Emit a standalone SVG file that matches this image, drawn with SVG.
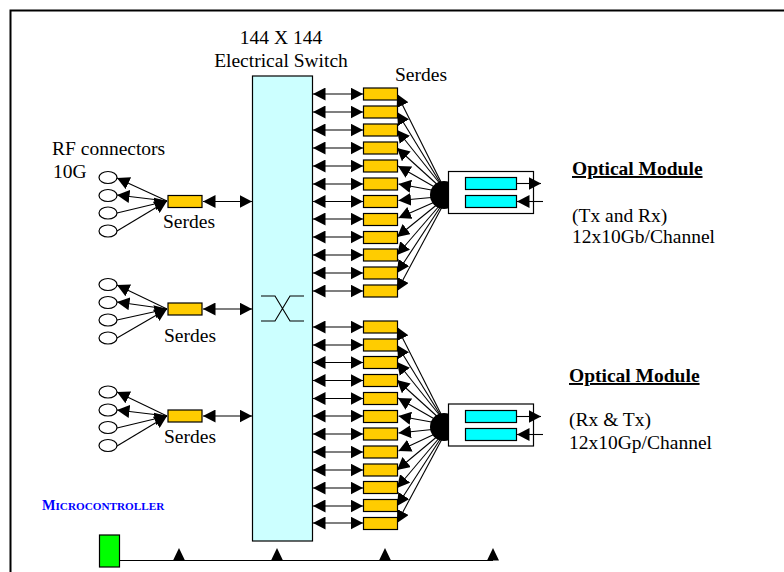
<svg xmlns="http://www.w3.org/2000/svg" width="784" height="572" viewBox="0 0 784 572">
<style>
text{font-family:"Liberation Serif","Times New Roman",serif;font-size:19.500px;fill:#000}
.o{fill:#fc0;stroke:#000;stroke-width:1.2}
.c{fill:#0ff;stroke:#000;stroke-width:1.2}
.e{fill:#fff;stroke:#000;stroke-width:1.2}
.l{fill:none;stroke:#000;stroke-width:1.1}
.d{marker-start:url(#ah);marker-end:url(#ah)}
.a{marker-end:url(#ah)}
</style>
<defs><marker id="ah" markerUnits="userSpaceOnUse" markerWidth="12.500" markerHeight="13" refX="12.500" refY="6.500" orient="auto-start-reverse" viewBox="0 0 12.500 13"><path d="M0 0L12.500 6.500L0 13Z" fill="#000"/></marker></defs>
<rect width="784" height="572" fill="#fff"/>
<path d="M10.500 572V10.500H784" fill="none" stroke="#000" stroke-width="2"/>
<g id="switch"><rect x="252.500" y="76" width="60" height="465" fill="#cff" stroke="#000" stroke-width="1.200"/>
<path class="l" d="M261 321H275L290 296H304M261 296H275L290 321H304"/></g>
<g id="connectors">
<path class="l d" d="M313 94H363"/><path class="l d" d="M313 112H363"/><path class="l d" d="M313 130H363"/><path class="l d" d="M313 148H363"/><path class="l d" d="M313 166H363"/><path class="l d" d="M313 184H363"/><path class="l d" d="M313 201.500H363"/><path class="l d" d="M313 219H363"/><path class="l d" d="M313 237H363"/><path class="l d" d="M313 255H363"/><path class="l d" d="M313 273H363"/><path class="l d" d="M313 291H363"/>
<path class="l d" d="M313 327H363"/><path class="l d" d="M313 345H363"/><path class="l d" d="M313 362.500H363"/><path class="l d" d="M313 380.500H363"/><path class="l d" d="M313 398.500H363"/><path class="l d" d="M313 416H363"/><path class="l d" d="M313 434H363"/><path class="l d" d="M313 452H363"/><path class="l d" d="M313 470H363"/><path class="l d" d="M313 488H363"/><path class="l d" d="M313 506H363"/><path class="l d" d="M313 523H363"/>
<path class="l d" d="M203 201.500H252"/><path class="l d" d="M203 309H252"/><path class="l d" d="M203 416H252"/>
<path class="l a" d="M441 182L397 94"/><path class="l a" d="M441 184L397 112"/><path class="l a" d="M441 185L397 130"/><path class="l a" d="M440 187L397 148"/><path class="l a" d="M438 189L398 166"/><path class="l a" d="M437 191L398.500 184"/><path class="l a" d="M437 197L398.500 200.500"/><path class="l a" d="M437 201L398.500 218"/><path class="l a" d="M439 203L397 237"/><path class="l a" d="M440 205L397 255"/><path class="l a" d="M441 206L397 273"/><path class="l a" d="M442 207L397 291"/>
<path class="l a" d="M441 414L397 327"/><path class="l a" d="M441 416L397 345"/><path class="l a" d="M441 417L397 362"/><path class="l a" d="M440 419L397 380"/><path class="l a" d="M438 421L398 398"/><path class="l a" d="M437 423L398.500 416"/><path class="l a" d="M437 429L398.500 433"/><path class="l a" d="M437 433L398.500 451"/><path class="l a" d="M439 435L397 470"/><path class="l a" d="M440 437L397 488"/><path class="l a" d="M441 438L397 506"/><path class="l a" d="M442 439L397 523"/>
<path class="l a" d="M167 201L117 178"/><path class="l a" d="M167 201L117 195"/><path class="l a" d="M117 213L167 201"/><path class="l a" d="M117 231L167 201"/>
<path class="l a" d="M167 309L117 285"/><path class="l a" d="M167 309L117 302"/><path class="l a" d="M117 320L167 309"/><path class="l a" d="M117 338L167 309"/>
<path class="l a" d="M167 416L117 392"/><path class="l a" d="M167 416L117 410"/><path class="l a" d="M117 428L167 416"/><path class="l a" d="M117 446L167 416"/>
<path class="l" d="M119 560.500H493"/>
<path d="M179 548L185 560.500H173ZM277 548L283 560.500H271ZM385 548L391 560.500H379ZM493 548L499 560.500H487Z" fill="#000"/>
</g>
<g id="serdes-top">
<rect class="o" x="363.500" y="88" width="34" height="12"/><rect class="o" x="363.500" y="106" width="34" height="12"/><rect class="o" x="363.500" y="124" width="34" height="12"/><rect class="o" x="363.500" y="142" width="34" height="12"/><rect class="o" x="363.500" y="160" width="34" height="12"/><rect class="o" x="363.500" y="178" width="34" height="12"/><rect class="o" x="363.500" y="195.500" width="34" height="12"/><rect class="o" x="363.500" y="213.500" width="34" height="12"/><rect class="o" x="363.500" y="231.500" width="34" height="12"/><rect class="o" x="363.500" y="249" width="34" height="12"/><rect class="o" x="363.500" y="267" width="34" height="12"/><rect class="o" x="363.500" y="285" width="34" height="12"/>
</g>
<g id="serdes-bottom">
<rect class="o" x="363.500" y="321" width="34" height="12"/><rect class="o" x="363.500" y="339" width="34" height="12"/><rect class="o" x="363.500" y="356.500" width="34" height="12"/><rect class="o" x="363.500" y="374.500" width="34" height="12"/><rect class="o" x="363.500" y="392.500" width="34" height="12"/><rect class="o" x="363.500" y="410.500" width="34" height="12"/><rect class="o" x="363.500" y="428" width="34" height="12"/><rect class="o" x="363.500" y="446" width="34" height="12"/><rect class="o" x="363.500" y="464" width="34" height="12"/><rect class="o" x="363.500" y="481.500" width="34" height="12"/><rect class="o" x="363.500" y="499.500" width="34" height="12"/><rect class="o" x="363.500" y="517.500" width="34" height="12"/>
</g>
<g id="module-top">
<circle cx="444" cy="195" r="14" fill="#000"/>
<rect x="448.500" y="171.500" width="85" height="42" fill="#fff" stroke="#000" stroke-width="1.200"/>
<rect class="c" x="465.500" y="177.500" width="51" height="12"/><rect class="c" x="465.500" y="195.500" width="51" height="12"/>
<path class="l a" d="M517 183.500H541"/><path class="l a" d="M543 201.500H517"/>
</g>
<g id="module-bottom">
<circle cx="444" cy="427" r="14" fill="#000"/>
<rect x="448.500" y="404" width="85" height="42" fill="#fff" stroke="#000" stroke-width="1.200"/>
<rect class="c" x="465.500" y="410.500" width="51" height="12"/><rect class="c" x="465.500" y="428.500" width="51" height="12"/>
<path class="l a" d="M517 416.500H541"/><path class="l a" d="M543 434.500H517"/>
</g>
<g id="rf-1"><ellipse class="e" cx="108" cy="177.500" rx="9" ry="6"/><ellipse class="e" cx="108" cy="195.500" rx="9" ry="6"/><ellipse class="e" cx="108" cy="213" rx="9" ry="6"/><ellipse class="e" cx="108" cy="231" rx="9" ry="6"/><rect class="o" x="168" y="195.500" width="34" height="12"/></g>
<g id="rf-2"><ellipse class="e" cx="108" cy="284.500" rx="9" ry="6"/><ellipse class="e" cx="108" cy="302.500" rx="9" ry="6"/><ellipse class="e" cx="108" cy="320" rx="9" ry="6"/><ellipse class="e" cx="108" cy="338" rx="9" ry="6"/><rect class="o" x="168" y="303" width="34" height="12"/></g>
<g id="rf-3"><ellipse class="e" cx="108" cy="392" rx="9" ry="6"/><ellipse class="e" cx="108" cy="410" rx="9" ry="6"/><ellipse class="e" cx="108" cy="427.500" rx="9" ry="6"/><ellipse class="e" cx="108" cy="445.500" rx="9" ry="6"/><rect class="o" x="168" y="410" width="34" height="12"/></g>
<g id="microcontroller"><rect x="99.500" y="535" width="20" height="32" fill="#0f0" stroke="#000" stroke-width="1.200"/></g>
<g id="labels">
<text x="281" y="44" text-anchor="middle">144 X 144</text>
<text x="281" y="67" text-anchor="middle">Electrical Switch</text>
<text x="421" y="81" text-anchor="middle">Serdes</text>
<text x="52" y="155">RF connectors</text>
<text x="53" y="178">10G</text>
<text x="189" y="228" text-anchor="middle">Serdes</text>
<text x="190" y="342" text-anchor="middle">Serdes</text>
<text x="190" y="443" text-anchor="middle">Serdes</text>
<text x="572" y="175" font-weight="bold" text-decoration="underline">Optical Module</text>
<text x="572" y="222">(Tx and Rx)</text>
<text x="572" y="243">12x10Gb/Channel</text>
<text x="569" y="382" font-weight="bold" text-decoration="underline">Optical Module</text>
<text x="569" y="426">(Rx &amp; Tx)</text>
<text x="569" y="449">12x10Gp/Channel</text>
<text x="42" y="510" style="font-size:14.300px;font-weight:bold;fill:#00f">M<tspan style="font-size:11.200px">ICROCONTROLLER</tspan></text>
</g>
</svg>
